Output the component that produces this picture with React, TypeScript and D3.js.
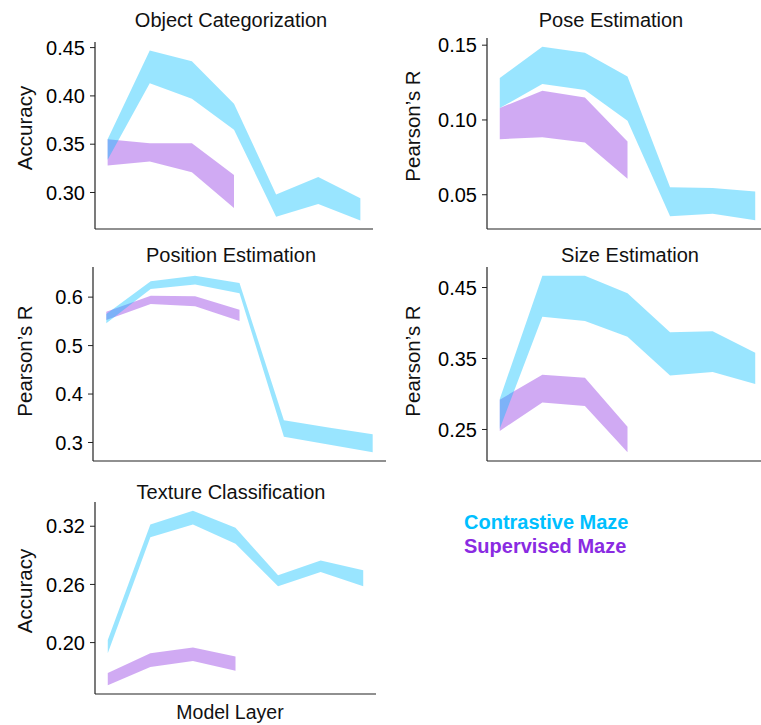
import React from 'react';
import * as d3 from 'd3';

// layer index along the x axis
const contrastiveLayers = [0, 1, 2, 3, 4, 5, 6];
const supervisedLayers = [0, 1, 2, 3];

const titles = ['Object Categorization', 'Pose Estimation', 'Position Estimation', 'Size Estimation', 'Texture Classification'];
const yLabels = ['Accuracy', "Pearson\u2019s R", "Pearson\u2019s R", "Pearson\u2019s R", 'Accuracy'];
const yTicks = [
  [0.30, 0.35, 0.40, 0.45],
  [0.05, 0.10, 0.15],
  [0.3, 0.4, 0.5, 0.6],
  [0.25, 0.35, 0.45],
  [0.20, 0.26, 0.32],
];
const tickFormats = ['.2f', '.2f', '.1f', '.2f', '.2f'];

// Object categorization
const objectContrastiveUpper = [0.355, 0.447, 0.436, 0.392, 0.298, 0.316, 0.294];
const objectContrastiveLower = [0.334, 0.413, 0.397, 0.365, 0.275, 0.288, 0.271];
const objectSupervisedUpper = [0.355, 0.351, 0.351, 0.318];
const objectSupervisedLower = [0.328, 0.332, 0.321, 0.284];

// Pose estimation
const poseContrastiveUpper = [0.128, 0.149, 0.145, 0.129, 0.055, 0.0545, 0.0522];
const poseContrastiveLower = [0.108, 0.124, 0.120, 0.0995, 0.0356, 0.0373, 0.0329];
const poseSupervisedUpper = [0.108, 0.1195, 0.115, 0.0856];
const poseSupervisedLower = [0.0871, 0.0885, 0.0849, 0.0607];

// Position estimation
const positionContrastiveUpper = [0.565, 0.633, 0.644, 0.629, 0.346, 0.331, 0.317];
const positionContrastiveLower = [0.546, 0.617, 0.626, 0.608, 0.312, 0.296, 0.280];
const positionSupervisedUpper = [0.570, 0.603, 0.602, 0.574];
const positionSupervisedLower = [0.553, 0.586, 0.581, 0.551];

// Size estimation
const sizeContrastiveUpper = [0.293, 0.4665, 0.4665, 0.442, 0.387, 0.3885, 0.358];
const sizeContrastiveLower = [0.251, 0.409, 0.4027, 0.3805, 0.326, 0.331, 0.314];
const sizeSupervisedUpper = [0.292, 0.327, 0.323, 0.2537];
const sizeSupervisedLower = [0.248, 0.288, 0.283, 0.218];

// Texture classification
const textureContrastiveUpper = [0.2028, 0.3217, 0.336, 0.3184, 0.2694, 0.2848, 0.2746];
const textureContrastiveLower = [0.189, 0.3087, 0.3217, 0.302, 0.2582, 0.2728, 0.2582];
const textureSupervisedUpper = [0.1686, 0.189, 0.1949, 0.1857];
const textureSupervisedLower = [0.156, 0.1748, 0.1811, 0.171];

const contrastiveUpper = [objectContrastiveUpper, poseContrastiveUpper, positionContrastiveUpper, sizeContrastiveUpper, textureContrastiveUpper];
const contrastiveLower = [objectContrastiveLower, poseContrastiveLower, positionContrastiveLower, sizeContrastiveLower, textureContrastiveLower];
const supervisedUpper = [objectSupervisedUpper, poseSupervisedUpper, positionSupervisedUpper, sizeSupervisedUpper, textureSupervisedUpper];
const supervisedLower = [objectSupervisedLower, poseSupervisedLower, positionSupervisedLower, sizeSupervisedLower, textureSupervisedLower];

const legendLabels = ['Contrastive Maze', 'Supervised Maze'];

// where each axes sits on the page
const boxes = [
  { left: 95, right: 373, top: 42, bottom: 229, titleX: 231, titleY: 27, labelX: 32, labelY: 128 },
  { left: 487, right: 768, top: 38, bottom: 229, titleX: 611, titleY: 27, labelX: 420, labelY: 126 },
  { left: 93, right: 386, top: 267, bottom: 461, titleX: 231, titleY: 262, labelX: 31.5, labelY: 361 },
  { left: 487, right: 768, top: 267, bottom: 461, titleX: 630, titleY: 262, labelX: 420, labelY: 361 },
  { left: 95, right: 376, top: 502, bottom: 694, titleX: 231, titleY: 499, labelX: 32, labelY: 591 },
];

const CYAN = '#00bfff';
const PURPLE = '#8a2be2';
const SANS = '"Liberation Sans", Arial, Helvetica, sans-serif';

function Panel({ i }: { i: number }) {
  const b = boxes[i];
  const all = [...contrastiveUpper[i], ...contrastiveLower[i], ...supervisedUpper[i], ...supervisedLower[i]];
  const lo = d3.min(all) as number;
  const hi = d3.max(all) as number;
  const pad = (hi - lo) * 0.05;

  const x = d3.scaleLinear().domain([-0.3, 6.3]).range([b.left, b.right]);
  const y = d3.scaleLinear().domain([lo - pad, hi + pad]).range([b.bottom, b.top]);

  const band = (layers: number[], upper: number[], lower: number[]) =>
    d3.area<number>()
      .x((d) => x(d))
      .y0((d, k) => y(lower[k]))
      .y1((d, k) => y(upper[k]))(layers) as string;

  const fmt = d3.format(tickFormats[i]);

  return (
    <g>
      <path d={band(supervisedLayers, supervisedUpper[i], supervisedLower[i])} fill={PURPLE} fillOpacity={0.4} />
      <path d={band(contrastiveLayers, contrastiveUpper[i], contrastiveLower[i])} fill={CYAN} fillOpacity={0.4} />
      <line x1={b.left} x2={b.left} y1={b.top} y2={b.bottom} stroke="#222" strokeWidth={1.2} />
      <line x1={b.left} x2={b.right} y1={b.bottom} y2={b.bottom} stroke="#222" strokeWidth={1.2} />
      {yTicks[i].map((t) => (
        <g key={t} transform={`translate(0,${y(t)})`}>
          <line x1={b.left - 5} x2={b.left} stroke="#222" strokeWidth={1} />
          <text x={b.left - 10} dy="0.36em" textAnchor="end" fontFamily={SANS} fontSize={20} fill="#000">
            {fmt(t)}
          </text>
        </g>
      ))}
      <text x={b.titleX} y={b.titleY} textAnchor="middle" fontFamily={SANS} fontSize={20} fill="#111">
        {titles[i]}
      </text>
      <text transform={`translate(${b.labelX},${b.labelY}) rotate(-90)`} textAnchor="middle" fontFamily={SANS} fontSize={20.5} fill="#111">
        {yLabels[i]}
      </text>
    </g>
  );
}

export default function App() {
  return (
    <svg width={761} height={725} style={{ position: 'absolute', left: 0, top: 0, background: '#fff' }}>
      {boxes.map((b, i) => <Panel key={i} i={i} />)}
      <text x={230} y={719} textAnchor="middle" fontFamily={SANS} fontSize={19.5} fill="#111">Model Layer</text>
      <text x={464} y={529} fontFamily={SANS} fontWeight="bold" fontSize={20} fill={CYAN}>{legendLabels[0]}</text>
      <text x={464} y={553} fontFamily={SANS} fontWeight="bold" fontSize={20} fill={PURPLE}>{legendLabels[1]}</text>
    </svg>
  );
}
